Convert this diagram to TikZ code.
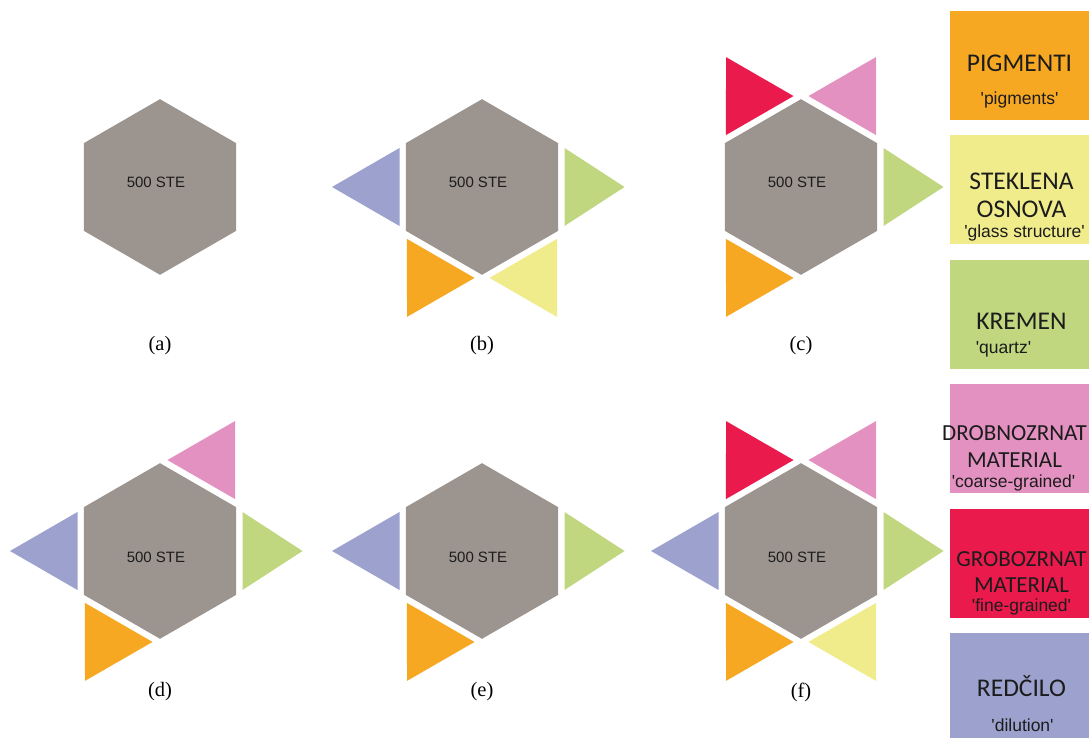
\documentclass[tikz,border=0pt]{standalone}
\usepackage{fontspec}
\setmainfont{Liberation Serif}
\newfontfamily\arialf{Liberation Sans}
\newfontfamily\califont{Carlito}
\usetikzlibrary{calc}
\definecolor{hexgray}{HTML}{9C948F}
\definecolor{pigm}{HTML}{F7A823}
\definecolor{glass}{HTML}{F1EC8B}
\definecolor{quartz}{HTML}{C0D67F}
\definecolor{drob}{HTML}{E391C0}
\definecolor{grob}{HTML}{EB1A4C}
\definecolor{dilut}{HTML}{9CA2CD}
\definecolor{ink}{HTML}{1C1C1C}
\newcommand\tq[1]{\textquotesingle#1\textquotesingle}
\newcommand\hexbody{\fill[hexgray] (90:87.8) \foreach \k in {1,...,5}{-- (90+60*\k:87.8)} -- cycle;}
\newcommand\petal[3][67.5]{\fill[#3] ($(#2:82.5)+(#2+90:39)$) -- ($(#2:82.5)+(#2-90:39)$) -- (#2:82.5+#1) -- cycle;}

\begin{document}
\begin{tikzpicture}[x=1pt,y=1pt,
ste/.style={font=\arialf\fontsize{15}{17}\selectfont,text=ink,inner sep=0pt},
panel/.style={font=\fontsize{20.5}{23}\selectfont,inner sep=0pt},
legbox/.style={anchor=north west,minimum width=139pt,minimum height=109pt,inner sep=0pt,outer sep=0pt},
ttl/.style={anchor=base,font=\califont\fontsize{25.5}{28}\selectfont,text=ink,inner sep=0pt},
ttls/.style={anchor=base,font=\califont\fontsize{23}{26}\selectfont,text=ink,inner sep=0pt},
sub/.style={anchor=base,font=\arialf\fontsize{17.5}{20}\selectfont,text=ink,inner sep=0pt}]
\useasboundingbox (0,0) rectangle (1089,738);
\fill[white] (0,0) rectangle (1089,738);

\begin{scope}[shift={(160,551)}]
\hexbody
\node[ste] (sa) at (-4,5) {500 STE};
\node[panel] (la) at (0,-159) {(a)};
\end{scope}

\begin{scope}[shift={(482,551)}]
\hexbody
\petal{180}{dilut}\petal[60]{0}{quartz}\petal{240}{pigm}\petal{300}{glass}
\node[ste] (sb) at (-4,5) {500 STE};
\node[panel] (lb) at (0,-159) {(b)};
\end{scope}

\begin{scope}[shift={(801,551)}]
\hexbody
\petal{120}{grob}\petal{60}{drob}\petal[60]{0}{quartz}\petal{240}{pigm}
\node[ste] (sc) at (-4,5) {500 STE};
\node[panel] (lc) at (0,-159) {(c)};
\end{scope}

\begin{scope}[shift={(160,187)}]
\hexbody
\petal{60}{drob}\petal{180}{dilut}\petal[60]{0}{quartz}\petal{240}{pigm}
\node[ste] (sd) at (-4,-6) {500 STE};
\node[panel] (ld) at (0,-141) {(d)};
\end{scope}

\begin{scope}[shift={(482,187)}]
\hexbody
\petal{180}{dilut}\petal[60]{0}{quartz}\petal{240}{pigm}
\node[ste] (se) at (-4,-6) {500 STE};
\node[panel] (le) at (0,-141) {(e)};
\end{scope}

\begin{scope}[shift={(801,187)}]
\hexbody
\petal{120}{grob}\petal{60}{drob}\petal{180}{dilut}\petal[60]{0}{quartz}\petal{240}{pigm}\petal{300}{glass}
\node[ste] (sf) at (-4,-6) {500 STE};
\node[panel] (lf) at (0,-141) {(f)};
\end{scope}

\node[legbox,fill=pigm] (bpig) at (950,727) {};
\node[ttl] at ($(bpig.north)+(0,-61)$) {PIGMENTI};
\node[sub] at ($(bpig.north)+(0,-94)$) {\tq{pigments}};
\node[legbox,fill=glass] (bgla) at (950,602.6) {};
\node[ttl] at ($(bgla.north)+(2,-54.6)$) {STEKLENA};
\node[ttl] at ($(bgla.north)+(2,-82.6)$) {OSNOVA};
\node[sub] at ($(bgla.north)+(5,-102.6)$) {\tq{glass structure}};
\node[legbox,fill=quartz] (bqua) at (950,478.2) {};
\node[ttl] at ($(bqua.north)+(2,-70)$) {KREMEN};
\node[sub] at ($(bqua.north)+(-16,-94)$) {\tq{quartz}};
\node[legbox,fill=drob] (bdro) at (950,353.8) {};
\node[ttls] at ($(bdro.north)+(-5,-56)$) {DROBNOZRNAT};
\node[ttls] at ($(bdro.north)+(-5,-83)$) {MATERIAL};
\node[sub] at ($(bdro.north)+(-6,-103)$) {\tq{coarse-grained}};
\node[legbox,fill=grob] (bgro) at (950,229.4) {};
\node[ttls] at ($(bgro.north)+(2,-58)$) {GROBOZRNAT};
\node[ttls] at ($(bgro.north)+(2,-84.4)$) {MATERIAL};
\node[sub] at ($(bgro.north)+(2,-103.4)$) {\tq{fine-grained}};
\node[legbox,fill=dilut] (bdil) at (950,105) {};
\node[ttl] at ($(bdil.north)+(2,-64)$) {REDČILO};
\node[sub] at ($(bdil.north)+(3,-99)$) {\tq{dilution}};
\end{tikzpicture}
\end{document}
